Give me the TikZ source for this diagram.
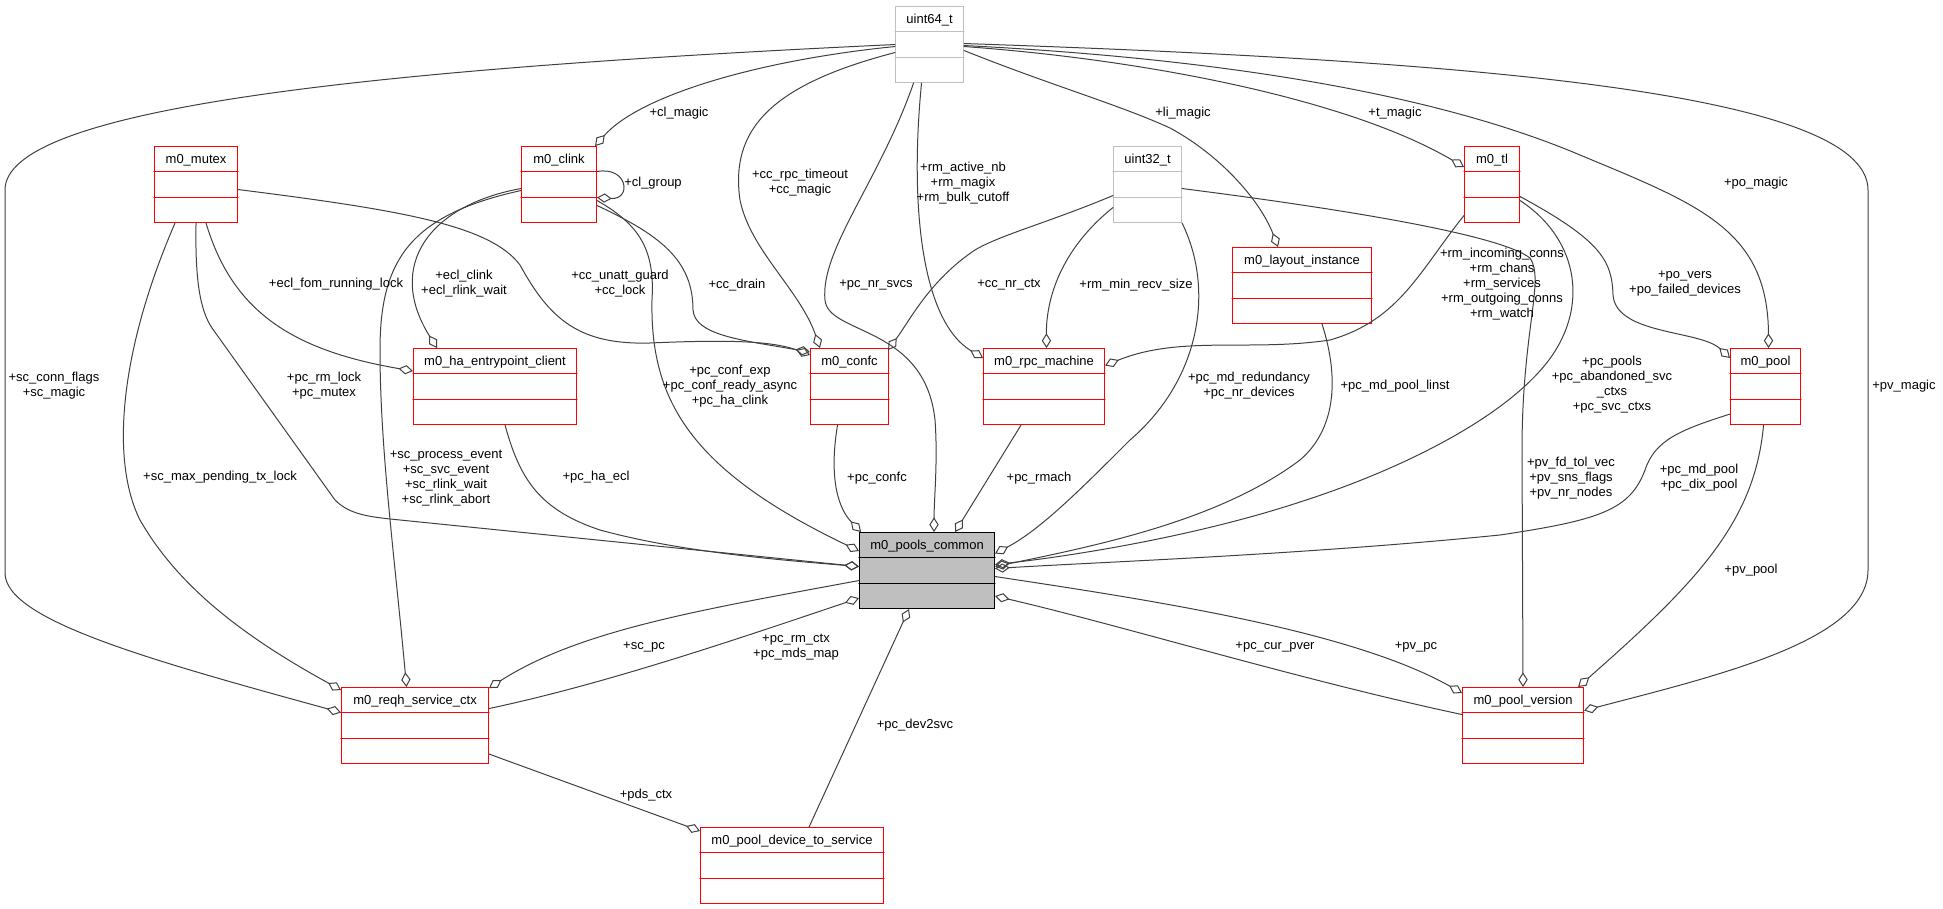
\documentclass[tikz,border=0pt]{standalone}
\usepackage{fontspec}
\setmainfont{Liberation Sans}
\usetikzlibrary{arrows.meta,calc}

\begin{document}
\begin{tikzpicture}[x=0.75pt,y=-0.75pt,>={Diamond[open,length=11pt,width=7pt]},
  font=\fontsize{9.75pt}{11.25pt}\selectfont,line cap=round,
  cls/.style={draw,line width=0.8pt,anchor=north west,inner sep=0pt,minimum height=57pt,text height=12.6pt,text depth=44.4pt},
  bw/.style={minimum width=#1*0.75pt},
  redcls/.style={cls,draw=red},
  graycls/.style={cls,draw=black!25},
  maincls/.style={cls,draw=black,fill=black!25},
  member/.style={draw=black!75,line width=0.75pt,->},
  lbl/.style={inner sep=0pt,align=center}]
\useasboundingbox (0,0) rectangle (1943,909);

% class boxes
\node[graycls,bw=68] (u64) at (895,6) {uint64\_t};
\node[redcls,bw=83] (mutex) at (154,146) {m0\_mutex};
\node[redcls,bw=75] (clink) at (521,146) {m0\_clink};
\node[graycls,bw=68] (u32) at (1113,146) {uint32\_t};
\node[redcls,bw=55] (tl) at (1464,146) {m0\_tl};
\node[redcls,bw=139] (layout) at (1232,247) {m0\_layout\_instance};
\node[redcls,bw=163] (haclient) at (413,348) {m0\_ha\_entrypoint\_client};
\node[redcls,bw=78] (confc) at (810,348) {m0\_confc};
\node[redcls,bw=121] (rpcmach) at (983,348) {m0\_rpc\_machine};
\node[redcls,bw=70] (pool) at (1730,348) {m0\_pool};
\node[maincls,bw=135] (pools) at (859,532) {m0\_pools\_common};
\node[redcls,bw=147] (reqh) at (341,687) {m0\_reqh\_service\_ctx};
\node[redcls,bw=121] (pver) at (1462,687) {m0\_pool\_version};
\node[redcls,bw=183] (dev2svc) at (700,827) {m0\_pool\_device\_to\_service};

% compartments
\foreach \n in {mutex,clink,tl,layout,haclient,confc,rpcmach,pool,reqh,pver,dev2svc}
  \draw[red,line width=0.8pt] ($(\n.north west)!0.33!(\n.south west)$) -- ($(\n.north east)!0.33!(\n.south east)$)
    ($(\n.north west)!0.665!(\n.south west)$) -- ($(\n.north east)!0.665!(\n.south east)$);
\foreach \n in {u64,u32}
  \draw[black!25,line width=0.8pt] ($(\n.north west)!0.33!(\n.south west)$) -- ($(\n.north east)!0.33!(\n.south east)$)
    ($(\n.north west)!0.665!(\n.south west)$) -- ($(\n.north east)!0.665!(\n.south east)$);
\draw[line width=0.8pt] ($(pools.north west)!0.33!(pools.south west)$) -- ($(pools.north east)!0.33!(pools.south east)$)
  ($(pools.north west)!0.665!(pools.south west)$) -- ($(pools.north east)!0.665!(pools.south east)$);

% uint64_t members
\draw[member] ($(u64.west)+(0,2)$) .. controls (760,60) and (640,95) .. ($(clink.north east)+(-2,0)$);
\draw[member] (u64.west) .. controls (350,70) and (5,110) .. (5,190) -- (5,573) .. controls (5,620) and (150,660) .. ($(reqh.west)+(0,-13)$);
\draw[member] ($(u64.west)+(0,8)$) .. controls (770,85) and (730,130) .. (740,200) .. controls (750,250) and (800,290) .. ($(confc.north west)+(10,0)$);
\draw[member] ($(u64.south)+(-16,0)$) .. controls (880,180) and (820,250) .. (825,300) .. controls (828,335) and (925,325) .. (935,420) .. controls (938,460) and (934,500) .. ($(pools.north)+(7,0)$);
\draw[member] ($(u64.south)+(-8,0)$) .. controls (910,200) and (920,320) .. ($(rpcmach.north west)+(0,10)$);
\draw[member] ($(u64.east)+(0,6)$) .. controls (1050,85) and (1120,105) .. (1170,128) .. controls (1220,155) and (1260,200) .. ($(layout.north)+(-24,0)$);
\draw[member] ($(u64.east)+(0,2)$) .. controls (1150,60) and (1350,100) .. ($(tl.north west)+(0,21)$);
\draw[member] ($(u64.east)+(0,1)$) .. controls (1250,60) and (1450,100) .. (1580,155) .. controls (1700,205) and (1768,230) .. ($(pool.north)+(3,0)$);
\draw[member] ($(u64.east)+(0,-1)$) .. controls (1450,60) and (1868,90) .. (1868,190) -- (1868,570) .. controls (1868,640) and (1720,675) .. ($(pver.east)+(0,-15)$);

% uint32_t members
\draw[member] ($(u32.west)+(0,11)$) .. controls (1050,222) and (1000,235) .. (975,250) .. controls (930,280) and (910,320) .. ($(confc.north east)+(-1,2)$);
\draw[member] ($(u32.west)+(0,23)$) .. controls (1060,250) and (1046,300) .. ($(rpcmach.north)+(2.5,0)$);
\draw[member] (u32.south east) .. controls (1215,290) and (1200,380) .. (1130,440) .. controls (1080,490) and (1040,530) .. ($(pools.east)+(0,-17)$);
\draw[member] ($(u32.east)+(0,4)$) .. controls (1350,210) and (1500,235) .. (1530,258) .. controls (1545,280) and (1522,330) .. (1522,450) -- (pver.north);

% m0_mutex and m0_clink members
\draw[member] ($(mutex.south)+(10,0)$) .. controls (232,310) and (290,350) .. ($(haclient.north west)+(0,23)$);
\draw[member] ($(mutex.east)+(0,5)$) .. controls (400,210) and (490,225) .. (520,265) .. controls (550,320) and (580,345) .. (650,343) .. controls (720,340) and (770,340) .. ($(confc.north west)+(0,7)$);
\draw[member] (mutex.south) .. controls (195,280) and (200,310) .. (212,328) -- (335,500) .. controls (350,515) and (370,517) .. (400,520) -- ($(pools.west)+(0,-4)$);
\draw[member] ($(mutex.south)+(-21,0)$) .. controls (120,350) and (110,460) .. (140,520) .. controls (180,590) and (250,640) .. ($(reqh.north west)+(0,3)$);
\draw[member] ($(clink.east)+(0,-13)$) .. controls (628,166) and (632,200) .. ($(clink.east)+(0,13)$);
\draw[member] ($(clink.west)+(0,4)$) .. controls (430,205) and (385,265) .. ($(haclient.north west)+(24,0)$);
\draw[member] ($(clink.east)+(0,21)$) .. controls (660,235) and (693,260) .. (693,310) .. controls (695,335) and (740,340) .. ($(confc.north west)+(0,4)$);
\draw[member] ($(clink.west)+(0,6)$) .. controls (410,215) and (380,260) .. (380,350) .. controls (380,450) and (395,560) .. ($(reqh.north)+(-8.5,0)$);
\draw[member] ($(clink.east)+(0,16)$) .. controls (640,225) and (655,250) .. (652,300) .. controls (650,400) and (690,470) .. ($(pools.north west)+(0,19)$);

% m0_tl, m0_layout_instance, m0_pool members
\draw[member] ($(tl.west)+(0,31)$) .. controls (1420,270) and (1400,320) .. (1330,340) .. controls (1250,352) and (1180,335) .. ($(rpcmach.east)+(0,-21)$);
\draw[member] ($(tl.east)+(0,16)$) .. controls (1580,240) and (1590,310) .. (1545,365) .. controls (1500,420) and (1400,470) .. (1300,502) .. controls (1200,535) and (1080,555) .. ($(pools.east)+(0,-6)$);
\draw[member] ($(tl.east)+(0,12)$) .. controls (1600,240) and (1612,260) .. (1613,295) .. controls (1616,335) and (1700,330) .. ($(pool.north west)+(0,10)$);
\draw[member] ($(layout.south)+(20,0)$) .. controls (1340,380) and (1335,430) .. (1300,460) .. controls (1220,520) and (1100,545) .. ($(pools.east)+(0,-4)$);
\draw[member] ($(pool.south west)+(0,-11)$) .. controls (1680,430) and (1655,440) .. (1645,470) .. controls (1630,510) and (1600,520) .. (1500,535) .. controls (1300,555) and (1100,562) .. ($(pools.east)+(0,-2)$);
\draw[member] ($(pool.south)+(-2,0)$) .. controls (1755,520) and (1700,580) .. ($(pver.north east)+(-6,0)$);

% row above m0_pools_common
\draw[member] ($(haclient.south)+(10,0)$) .. controls (520,480) and (540,510) .. (600,530) .. controls (680,552) and (780,560) .. ($(pools.west)+(0,-4)$);
\draw[member] ($(confc.south)+(-12,0)$) .. controls (830,470) and (835,505) .. ($(pools.north west)+(2,0)$);
\draw[member] ($(rpcmach.south)+(-23,0)$) -- ($(pools.north east)+(-40,0)$);

% bottom rows
\draw[member] ($(pools.west)+(0,10)$) .. controls (700,610) and (580,630) .. ($(reqh.north east)+(0,1)$);
\draw[member] ($(reqh.east)+(0,-17)$) .. controls (600,685) and (720,645) .. ($(pools.south west)+(0,-11)$);
\draw[member] ($(reqh.south east)+(0,-10)$) -- ($(dev2svc.north west)+(0,4)$);
\draw[member] ($(dev2svc.north)+(17,0)$) -- ($(pools.south west)+(50,0)$);
\draw[member] ($(pools.east)+(0,6)$) .. controls (1150,600) and (1350,630) .. ($(pver.north west)+(0,6)$);
\draw[member] ($(pver.west)+(0,-11)$) .. controls (1300,680) and (1120,625) .. ($(pools.south east)+(0,-13)$);

% member labels
\node[lbl] (l-clmagic) at (679,113) {+cl\_magic};
\node[lbl] (l-scconn) at (54,386) {+sc\_conn\_flags\\+sc\_magic};
\node[lbl] (l-ccrpc) at (800,183) {+cc\_rpc\_timeout\\+cc\_magic};
\node[lbl] (l-nrsvcs) at (876,285) {+pc\_nr\_svcs};
\node[lbl] (l-rmactive) at (963,183) {+rm\_active\_nb\\+rm\_magix\\+rm\_bulk\_cutoff};
\node[lbl] (l-limagic) at (1183,113) {+li\_magic};
\node[lbl] (l-tmagic) at (1395,113) {+t\_magic};
\node[lbl] (l-pomagic) at (1756,183) {+po\_magic};
\node[lbl] (l-pvmagic) at (1904,386) {+pv\_magic};
\node[lbl] (l-ccnrctx) at (1009,285) {+cc\_nr\_ctx};
\node[lbl] (l-rmminrecv) at (1136,285) {+rm\_min\_recv\_size};
\node[lbl] (l-mdredund) at (1249,386) {+pc\_md\_redundancy\\+pc\_nr\_devices};
\node[lbl] (l-pvfdtol) at (1571,478) {+pv\_fd\_tol\_vec\\+pv\_sns\_flags\\+pv\_nr\_nodes};
\node[lbl] (l-eclfom) at (336,284) {+ecl\_fom\_running\_lock};
\node[lbl] (l-ccunatt) at (620,284) {+cc\_unatt\_guard\\+cc\_lock};
\node[lbl] (l-rmlock) at (324,386) {+pc\_rm\_lock\\+pc\_mutex};
\node[lbl] (l-scmax) at (220,477) {+sc\_max\_pending\_tx\_lock};
\node[lbl] (l-clgroup) at (653,183) {+cl\_group};
\node[lbl] (l-eclclink) at (464,284) {+ecl\_clink\\+ecl\_rlink\_wait};
\node[lbl] (l-ccdrain) at (737,285) {+cc\_drain};
\node[lbl] (l-scprocess) at (446,478) {+sc\_process\_event\\+sc\_svc\_event\\+sc\_rlink\_wait\\+sc\_rlink\_abort};
\node[lbl] (l-confexp) at (730,386) {+pc\_conf\_exp\\+pc\_conf\_ready\_async\\+pc\_ha\_clink};
\node[lbl] (l-rmincoming) at (1502,284) {+rm\_incoming\_conns\\+rm\_chans\\+rm\_services\\+rm\_outgoing\_conns\\+rm\_watch};
\node[lbl] (l-pcpools) at (1612,385) {+pc\_pools\\+pc\_abandoned\_svc\\\_ctxs\\+pc\_svc\_ctxs};
\node[lbl] (l-povers) at (1685,284) {+po\_vers\\+po\_failed\_devices};
\node[lbl] (l-mdpoollinst) at (1395,386) {+pc\_md\_pool\_linst};
\node[lbl] (l-mdpool) at (1699,478) {+pc\_md\_pool\\+pc\_dix\_pool};
\node[lbl] (l-haecl) at (596,477) {+pc\_ha\_ecl};
\node[lbl] (l-pcconfc) at (877,478) {+pc\_confc};
\node[lbl] (l-pcrmach) at (1039,478) {+pc\_rmach};
\node[lbl] (l-pvpool) at (1751,570) {+pv\_pool};
\node[lbl] (l-scpc) at (644,647) {+sc\_pc};
\node[lbl] (l-rmctx) at (796,647) {+pc\_rm\_ctx\\+pc\_mds\_map};
\node[lbl] (l-pdsctx) at (646,795) {+pds\_ctx};
\node[lbl] (l-dev2svc) at (915,725) {+pc\_dev2svc};
\node[lbl] (l-pvpc) at (1416,647) {+pv\_pc};
\node[lbl] (l-curpver) at (1275,647) {+pc\_cur\_pver};
\end{tikzpicture}
\end{document}
